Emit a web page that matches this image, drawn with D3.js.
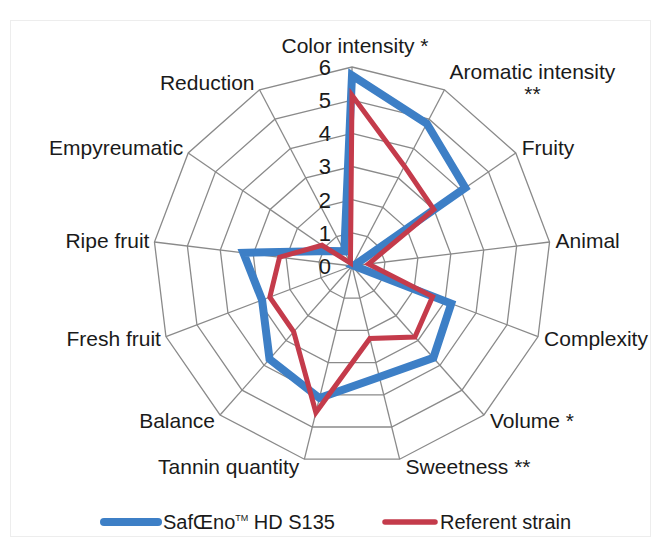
<!DOCTYPE html>
<html>
<head>
<meta charset="utf-8">
<script src="https://cdn.jsdelivr.net/npm/d3@7/dist/d3.min.js"></script>
<style>
  body { margin: 0; background: #fff; }
  svg text { font-family: "Liberation Sans", Arial, sans-serif; fill: #1a1a1a; }
</style>
</head>
<body>
<svg id="chart" width="655" height="542"></svg>
<script>

// axes of the radar, clockwise from the top
var categories = ["Color intensity *", "Aromatic intensity **", "Fruity", "Animal", "Complexity",
    "Volume *", "Sweetness **", "Tannin quantity", "Balance", "Fresh fruit", "Ripe fruit",
    "Empyreumatic", "Reduction"];

var safoenoValues = [5.75, 4.85, 4.15, 0.05, 3.2, 3.7, 3.45, 4.1, 3.75, 2.9, 3.3, 0.8, 0.5];
var referentValues = [5.15, 3.4, 3.0, 0.5, 2.6, 2.86, 2.25, 4.55, 2.65, 2.65, 2.2, 1.1, 0.1];

var ticks = [0, 1, 2, 3, 4, 5, 6];

var seriesNames = ["SafŒno", "Referent strain"];

var svg = d3.select("#chart"),
    cx = 352,
    cy = 266,
    radius = 199;

var r = d3.scaleLinear().domain([0, 6]).range([0, radius]);
var angle = d3.scaleLinear().domain([0, categories.length]).range([0, 2 * Math.PI]);

function px(i, v) { return cx + r(v) * Math.sin(angle(i)); }
function py(i, v) { return cy - r(v) * Math.cos(angle(i)); }

// faint chart area border
svg.append("rect")
    .attr("x", 10.5).attr("y", 20.5)
    .attr("width", 640).attr("height", 516)
    .style("fill", "none")
    .style("stroke", "#ededed");

var g = svg.append("g");

// rings
ticks.filter(function(t) { return t > 0; }).forEach(function(t) {
    g.append("path")
        .attr("d", d3.line()(categories.map(function(c, i) { return [px(i, t), py(i, t)]; })) + "Z")
        .style("fill", "none")
        .style("stroke", "#8a8a8a")
        .style("stroke-width", 1.3);
});

// spokes
g.selectAll(".spoke")
    .data(categories)
    .enter().append("line")
    .attr("class", "spoke")
    .attr("x1", cx).attr("y1", cy)
    .attr("x2", function(d, i) { return px(i, 6); })
    .attr("y2", function(d, i) { return py(i, 6); })
    .style("stroke", "#8a8a8a")
    .style("stroke-width", 1.3);

// tick labels along the top axis
g.selectAll(".tick-label")
    .data(ticks)
    .enter().append("text")
    .attr("class", "tick-label")
    .attr("x", cx - 21)
    .attr("y", function(d) { return cy - r(d); })
    .attr("dy", "0.36em")
    .attr("text-anchor", "end")
    .style("font-size", "22px")
    .text(function(d) { return d; });

// series
var radial = d3.lineRadial()
    .angle(function(d, i) { return angle(i); })
    .radius(function(d) { return r(d); })
    .curve(d3.curveLinearClosed);

g.append("path")
    .attr("transform", "translate(" + cx + "," + cy + ")")
    .attr("d", radial(safoenoValues))
    .style("fill", "none")
    .style("stroke", "#3d7fc6")
    .style("stroke-width", 8)
    .style("stroke-linejoin", "miter");

g.append("path")
    .attr("transform", "translate(" + cx + "," + cy + ")")
    .attr("d", radial(referentValues))
    .style("fill", "none")
    .style("stroke", "#c43b4b")
    .style("stroke-width", 5)
    .style("stroke-linejoin", "miter");

// category labels
categories.forEach(function(c, i) {
    var a = angle(i),
        s = Math.sin(a),
        co = Math.cos(a),
        vx = px(i, 6),
        vy = py(i, 6),
        lines = c === "Aromatic intensity **" ? ["Aromatic intensity", "**"] : [c],
        lh = 22;

    var t = g.append("text").style("font-size", "21px");
    var anchor, x, y0;
    if (Math.abs(s) < 0.1) {
        anchor = "middle";
        x = vx + 3;
        y0 = vy - 14;
    } else {
        anchor = s > 0 ? "start" : "end";
        x = vx + (s > 0 ? 6 : -5);
        y0 = vy - co * 8 - (lines.length - 1) * lh / 2 + 7;
    }
    if (lines.length > 1) {
        anchor = "middle";
        x = vx + 88;
    }
    t.attr("text-anchor", anchor);
    lines.forEach(function(l, k) {
        t.append("tspan")
            .attr("x", x)
            .attr("y", y0 + k * lh)
            .text(l);
    });
});

// legend
var legend = svg.append("g");
var legendX = [104, 385];
var legendLen = [54, 50];
var legendColors = ["#3d7fc6", "#c43b4b"];
var legendWidths = [8, 5.5];
legendX.forEach(function(lx, i) {
    legend.append("line")
        .attr("x1", lx).attr("x2", lx + legendLen[i])
        .attr("y1", 522).attr("y2", 522)
        .style("stroke", legendColors[i])
        .style("stroke-width", legendWidths[i])
        .style("stroke-linecap", "round");
    var t = legend.append("text")
        .attr("x", lx + legendLen[i] + 5)
        .attr("y", 529)
        .style("font-size", "20px");
    if (i === 0) {
        t.append("tspan").text(seriesNames[0]);
        t.append("tspan").attr("dy", -8).style("font-size", "9px").text("TM");
        t.append("tspan").attr("dy", 8).text(" HD S135");
    } else {
        t.text(seriesNames[1]);
    }
});
</script>
</body>
</html>
